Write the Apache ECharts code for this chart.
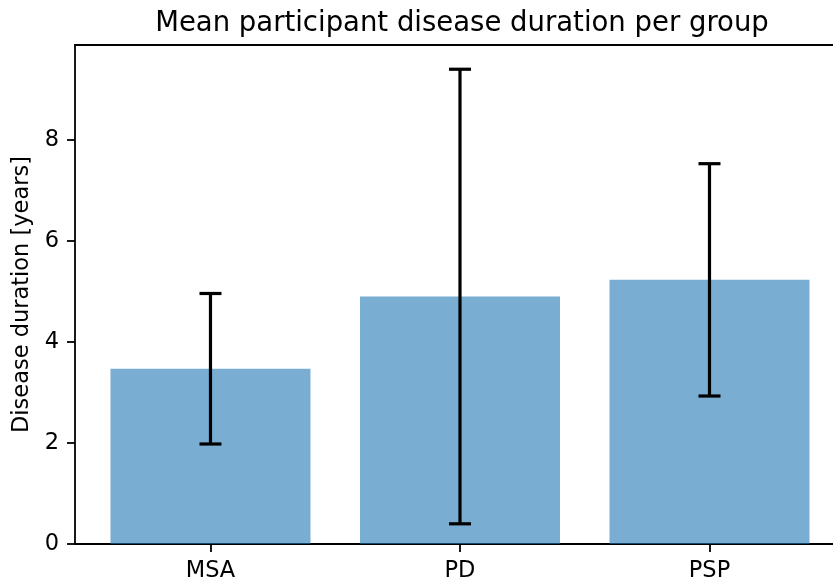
<!DOCTYPE html>
<html>
<head>
<meta charset="utf-8">
<script src="https://cdn.jsdelivr.net/npm/echarts@6/dist/echarts.min.js"></script>
<style>
  html, body { margin: 0; padding: 0; background: #ffffff; }
  #chart { width: 833px; height: 586px; }
</style>
</head>
<body>
<div id="chart"></div>
<script>
// Groups and their mean disease duration (years) with standard deviation
const groups = ['MSA', 'PD', 'PSP'];
const meanDuration = [3.47, 4.90, 5.23];
const sdDuration = [1.49, 4.50, 2.30];
const yTicks = [0, 2, 4, 6, 8];

const barColor = 'rgba(31,119,180,0.6)';
const fontFamily = 'DejaVu Sans';
const tickFont = 22.5;

const positions = groups.map((g, i) => i);
const barData = meanDuration.map((v, i) => [i, v]);
const errData = meanDuration.map((v, i) => [i, v - sdDuration[i], v + sdDuration[i]]);

const xMin = -0.543;
const xMax = 2.495;

const chart = echarts.init(document.getElementById('chart'), null, { renderer: 'canvas' });

chart.setOption({
  animation: false,
  backgroundColor: '#ffffff',
  title: {
    text: 'Mean participant disease duration per group',
    left: 457,
    textAlign: 'center',
    top: 5,
    textStyle: { fontFamily, fontSize: 27.5, fontWeight: 'normal', color: '#000' }
  },
  grid: { left: 75, right: 0, top: 45, bottom: 42 },
  xAxis: [
    {
      type: 'value',
      min: xMin,
      max: xMax,
      axisLine: { show: true, onZero: false, lineStyle: { color: '#000', width: 1.8 } },
      axisTick: { show: true, customValues: positions, length: 8, lineStyle: { color: '#000', width: 1.8 } },
      axisLabel: {
        customValues: positions,
        formatter: v => groups[Math.round(v)],
        fontFamily, fontSize: tickFont, color: '#000', margin: 16
      },
      splitLine: { show: false }
    },
    {
      type: 'value',
      position: 'top',
      min: xMin,
      max: xMax,
      axisLine: { show: true, onZero: false, lineStyle: { color: '#000', width: 1.8 } },
      axisTick: { show: false },
      axisLabel: { show: false },
      splitLine: { show: false }
    }
  ],
  yAxis: {
    type: 'value',
    min: 0,
    max: 9.88,
    name: 'Disease duration [years]',
    nameLocation: 'middle',
    nameGap: 41,
    nameTextStyle: { fontFamily, fontSize: tickFont, color: '#000' },
    axisLine: { show: true, onZero: false, lineStyle: { color: '#000', width: 1.8 } },
    axisTick: { show: true, customValues: yTicks, length: 8, lineStyle: { color: '#000', width: 1.8 } },
    axisLabel: { customValues: yTicks, fontFamily, fontSize: tickFont, color: '#000', margin: 16 },
    splitLine: { show: false }
  },
  series: [
    {
      type: 'bar',
      xAxisIndex: 0,
      data: barData,
      barWidth: 200,
      itemStyle: { color: barColor }
    },
    {
      type: 'custom',
      xAxisIndex: 0,
      data: errData,
      z: 10,
      renderItem: function (params, api) {
        const x = api.value(0);
        const lo = api.coord([x, api.value(1)]);
        const hi = api.coord([x, api.value(2)]);
        const cap = 11;
        const style = { stroke: '#000', lineWidth: 3.2 };
        return {
          type: 'group',
          children: [
            { type: 'line', shape: { x1: lo[0], y1: lo[1], x2: hi[0], y2: hi[1] }, style },
            { type: 'line', shape: { x1: lo[0] - cap, y1: lo[1], x2: lo[0] + cap, y2: lo[1] }, style },
            { type: 'line', shape: { x1: hi[0] - cap, y1: hi[1], x2: hi[0] + cap, y2: hi[1] }, style }
          ]
        };
      }
    }
  ]
});
</script>
</body>
</html>
